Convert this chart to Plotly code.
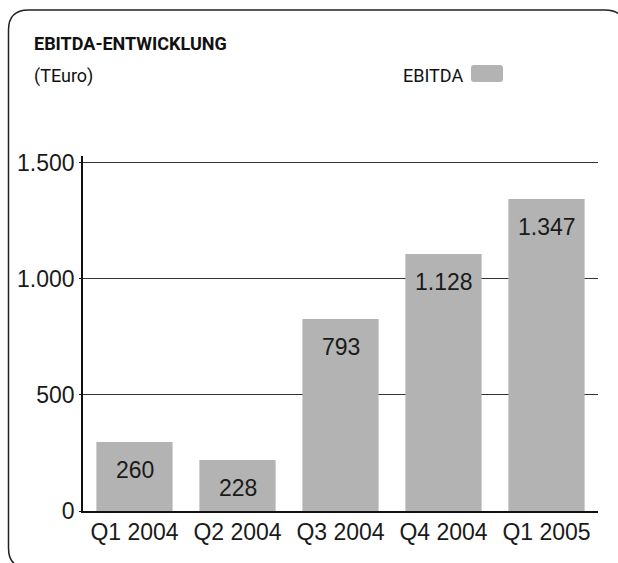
import plotly.graph_objects as go

categories = ["Q1 2004", "Q2 2004", "Q3 2004", "Q4 2004", "Q1 2005"]
bar_heights = [297, 220, 828, 1108, 1345]
value_labels = ["260", "228", "793", "1.128", "1.347"]
y_tickvals = [0, 500, 1000, 1500]
y_ticktext = ["0", "500", "1.000", "1.500"]

W, H = 618, 563
L, R, T, B = 83, 20, 156, 52
PW, PH = W - L - R, H - T - B

def px(x):
    return (x - L) / PW

def py(y):
    return (H - B - y) / PH

BAR_COLOR = "#b3b3b3"
FONT = "Liberation Sans, Arial, sans-serif"
NARROW = "Roboto, Liberation Sans Narrow, sans-serif"

fig = go.Figure()
fig.add_trace(go.Bar(
    x=categories, y=bar_heights, marker=dict(color=BAR_COLOR, line=dict(width=0)),
    name="EBITDA", showlegend=False, hoverinfo="skip",
))

for c, h, t in zip(categories, bar_heights, value_labels):
    fig.add_annotation(x=c, y=h, xref="x", yref="y", text=t, showarrow=False,
                       yanchor="middle", yshift=-28,
                       font=dict(family=FONT, size=23, color="#1a1a1a"))

# rounded frame
l, t, r, b, rad = 8.5, 10, 625, 568, 20
path = (f"M {px(l)},{py(t+rad)} Q {px(l)},{py(t)} {px(l+rad)},{py(t)} "
        f"L {px(r-rad)},{py(t)} Q {px(r)},{py(t)} {px(r)},{py(t+rad)} "
        f"L {px(r)},{py(b-rad)} Q {px(r)},{py(b)} {px(r-rad)},{py(b)} "
        f"L {px(l+rad)},{py(b)} Q {px(l)},{py(b)} {px(l)},{py(b-rad)} Z")
fig.add_shape(type="path", path=path, xref="paper", yref="paper",
              line=dict(color="#222222", width=1.5), layer="above")

# legend box
bl, bt, br, bb, br_ = 471, 65, 503, 82, 3
lpath = (f"M {px(bl)},{py(bt+br_)} Q {px(bl)},{py(bt)} {px(bl+br_)},{py(bt)} "
         f"L {px(br-br_)},{py(bt)} Q {px(br)},{py(bt)} {px(br)},{py(bt+br_)} "
         f"L {px(br)},{py(bb-br_)} Q {px(br)},{py(bb)} {px(br-br_)},{py(bb)} "
         f"L {px(bl+br_)},{py(bb)} Q {px(bl)},{py(bb)} {px(bl)},{py(bb-br_)} Z")
fig.add_shape(type="path", path=lpath, xref="paper", yref="paper",
              fillcolor=BAR_COLOR, line=dict(width=0))

fig.add_annotation(x=px(32), y=py(43), xref="paper", yref="paper", text="<b>EBITDA-ENTWICKLUNG</b>",
                   showarrow=False, xanchor="left", yanchor="middle",
                   font=dict(family=NARROW, size=18, color="#111111"))
fig.add_annotation(x=px(32), y=py(76), xref="paper", yref="paper", text="(TEuro)",
                   showarrow=False, xanchor="left", yanchor="middle",
                   font=dict(family=NARROW, size=18, color="#111111"))
fig.add_annotation(x=px(465), y=py(75), xref="paper", yref="paper", text="EBITDA",
                   showarrow=False, xanchor="right", yanchor="middle",
                   font=dict(family=NARROW, size=18, color="#111111"))

fig.update_layout(
    width=W, height=H, margin=dict(l=L, r=R, t=T, b=B),
    paper_bgcolor="white", plot_bgcolor="white",
    bargap=0.26, separators=",.",
    xaxis=dict(showgrid=False, showline=True, linecolor="#111111", linewidth=1.5,
               ticks="", tickfont=dict(family=FONT, size=23, color="#1a1a1a")),
    yaxis=dict(range=[0, 1530], tickvals=y_tickvals, ticktext=y_ticktext,
               showgrid=True, gridcolor="#333333", gridwidth=1.3,
               showline=True, linecolor="#111111", linewidth=1.5,
               zeroline=False, ticks="outside", ticklen=2, tickcolor="#111111",
               tickfont=dict(family=FONT, size=23, color="#1a1a1a")),
    font=dict(family=FONT),
)

fig.write_html("out.html")
